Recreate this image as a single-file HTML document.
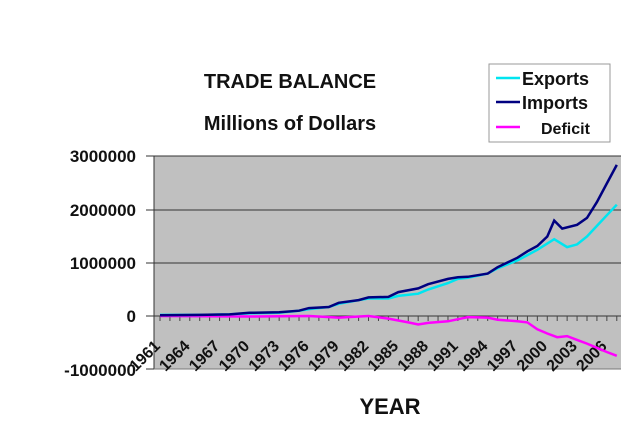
<!DOCTYPE html>
<html><head><meta charset="utf-8"><style>
html,body{margin:0;padding:0;background:#fff;width:625px;height:427px;overflow:hidden}
text{font-family:"Liberation Sans",Arial,sans-serif;font-weight:bold;fill:#111}
</style></head><body>
<svg id="s" width="625" height="427" xmlns="http://www.w3.org/2000/svg">
<rect x="154" y="156" width="467" height="213" fill="#c0c0c0"/>
<g stroke="#333" stroke-width="1">
<line x1="154" y1="156" x2="621" y2="156"/>
<line x1="154" y1="210" x2="621" y2="210"/>
<line x1="154" y1="263" x2="621" y2="263"/>
<line x1="154" y1="316" x2="621" y2="316"/>
<line x1="154" y1="156" x2="154" y2="369"/>
<line x1="154" y1="369" x2="621" y2="369" stroke="#777"/>
<line x1="146" y1="156" x2="154" y2="156"/><line x1="146" y1="210" x2="154" y2="210"/>
<line x1="146" y1="263" x2="154" y2="263"/><line x1="146" y1="316" x2="154" y2="316"/>
<line x1="146" y1="369" x2="154" y2="369"/>
</g>
<g id="ticks" stroke="#444" stroke-width="1"></g>
<g font-size="17" text-anchor="end">
<text x="136" y="162">3000000</text><text x="136" y="216">2000000</text>
<text x="136" y="269">1000000</text><text x="136" y="322">0</text>
<text x="136" y="376">-1000000</text>
</g>
<g id="xl" font-size="16"></g>
<path id="dfc" fill="none" stroke="#ff00ff" stroke-width="2.5"/>
<path id="exp" fill="none" stroke="#00e5f0" stroke-width="2.5"/>
<path id="imp" fill="none" stroke="#000080" stroke-width="2.5"/>
<text x="290" y="88" font-size="20" text-anchor="middle">TRADE BALANCE</text>
<text x="290" y="130" font-size="20" text-anchor="middle">Millions of Dollars</text>
<text x="390" y="414" font-size="22" text-anchor="middle">YEAR</text>
<rect x="489" y="64" width="121" height="78" fill="#fff" stroke="#999"/>
<line x1="496" y1="78" x2="520" y2="78" stroke="#00e5f0" stroke-width="2.5"/>
<line x1="496" y1="102" x2="520" y2="102" stroke="#000080" stroke-width="2.5"/>
<line x1="496" y1="127" x2="520" y2="127" stroke="#ff00ff" stroke-width="2.5"/>
<text x="522" y="85" font-size="18">Exports</text>
<text x="522" y="109" font-size="18">Imports</text>
<text x="541" y="134" font-size="16">Deficit</text>
</svg>
<script>
var X=function(y){return 160+(y-1961)*9.93},Y=function(v){return 316-v*53};
var imp=[[1961,.015],[1965,.02],[1968,.03],[1970,.06],[1973,.07],[1975,.1],[1976,.15],[1978,.17],[1979,.25],[1981,.3],[1982,.35],[1984,.36],[1985,.45],[1987,.52],[1988,.6],[1990,.7],[1991,.73],[1992,.74],[1994,.8],[1995,.92],[1997,1.1],[1998,1.22],[1999,1.32],[2000,1.5],[2000.7,1.8],[2001.5,1.65],[2003,1.72],[2004,1.85],[2005,2.15],[2006,2.5],[2007,2.85]];
var exp=[[1961,.02],[1965,.02],[1968,.03],[1970,.05],[1973,.06],[1975,.1],[1976,.13],[1978,.17],[1979,.23],[1981,.3],[1982,.33],[1984,.33],[1985,.38],[1987,.42],[1988,.5],[1990,.62],[1991,.7],[1992,.72],[1994,.8],[1995,.9],[1997,1.05],[1998,1.15],[1999,1.25],[2000.7,1.45],[2002,1.3],[2003,1.35],[2004,1.5],[2005,1.7],[2006,1.9],[2007,2.1]];
var dfc=[[1961,0],[1970,-.01],[1976,0],[1979,-.03],[1982,0],[1984,-.05],[1986,-.12],[1987,-.16],[1988,-.13],[1990,-.1],[1992,-.02],[1994,-.03],[1995,-.07],[1997,-.1],[1998,-.12],[1999,-.25],[2000,-.33],[2001,-.4],[2002,-.38],[2003,-.45],[2004,-.52],[2005,-.6],[2006,-.68],[2007,-.75]];
function p(a){return a.map(function(q,i){return (i?'L':'M')+X(q[0]).toFixed(1)+' '+Y(q[1]).toFixed(1)}).join(' ')}
document.getElementById('imp').setAttribute('d',p(imp));
document.getElementById('exp').setAttribute('d',p(exp));
document.getElementById('dfc').setAttribute('d',p(dfc));
var ns='http://www.w3.org/2000/svg',t=document.getElementById('ticks'),xl=document.getElementById('xl');
for(var y=1961;y<=2007;y++){var l=document.createElementNS(ns,'line');var x=X(y);l.setAttribute('x1',x);l.setAttribute('x2',x);l.setAttribute('y1',316);l.setAttribute('y2',321);t.appendChild(l);}
for(var y=1961;y<=2006;y+=3){var e=document.createElementNS(ns,'text');var x=X(y)+1;e.setAttribute('transform','translate('+x+',347) rotate(-45)');e.setAttribute('text-anchor','end');e.textContent=y;xl.appendChild(e);}
</script>
</body></html>
